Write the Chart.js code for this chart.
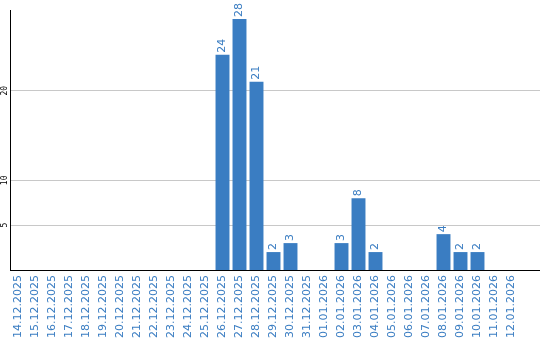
<!DOCTYPE html>
<html>
<head>
<meta charset="utf-8">
<script src="https://cdn.jsdelivr.net/npm/chart.js@4"></script>
<style>
  html, body { margin: 0; padding: 0; background: #fff; }
  #wrap { width: 540px; height: 340px; }
</style>
</head>
<body>
<div id="wrap"><canvas id="grafico"></canvas></div>
<script>
const dias = [
   '14.12.2025', '15.12.2025', '16.12.2025', '17.12.2025', '18.12.2025',
   '19.12.2025', '20.12.2025', '21.12.2025', '22.12.2025', '23.12.2025',
   '24.12.2025', '25.12.2025', '26.12.2025', '27.12.2025', '28.12.2025',
   '29.12.2025', '30.12.2025', '31.12.2025', '01.01.2026', '02.01.2026',
   '03.01.2026', '04.01.2026', '05.01.2026', '06.01.2026', '07.01.2026',
   '08.01.2026', '09.01.2026', '10.01.2026', '11.01.2026', '12.01.2026'
];
const valores = [
   0, 0, 0, 0, 0, 0, 0, 0, 0, 0,
   0, 0, 24, 28, 21, 2, 3, 0, 0, 3,
   8, 2, 0, 0, 0, 4, 2, 2, 0, 0
];
const yTicks = [5, 10, 20];
const yMax = 29;

const azul = 'rgb(58, 125, 194)';

// numero em cima de cada barra, rodado
const rotulos = {
   id: 'rotulos',
   afterDatasetsDraw(chart) {
      const ctx = chart.ctx;
      const meta = chart.getDatasetMeta(0);
      ctx.save();
      ctx.fillStyle = azul;
      ctx.font = '11px "DejaVu Sans"';
      ctx.textAlign = 'left';
      ctx.textBaseline = 'middle';
      meta.data.forEach((bar, i) => {
         const v = valores[i];
         if (!v) return;
         ctx.save();
         ctx.translate(bar.x, bar.y - 2);
         ctx.rotate(-Math.PI / 2);
         ctx.fillText(String(v), 0, 0);
         ctx.restore();
      });
      ctx.restore();
   }
};

// grelha e eixo vao ate a borda direita
const grelhaLarga = {
   id: 'grelhaLarga',
   beforeDatasetsDraw(chart) {
      const ctx = chart.ctx;
      const y = chart.scales.y;
      const area = chart.chartArea;
      ctx.save();
      ctx.strokeStyle = '#c8c8c8';
      ctx.lineWidth = 1;
      y.ticks.forEach(t => {
         const py = Math.round(y.getPixelForValue(t.value) - 0.5) + 0.5;
         ctx.beginPath();
         ctx.moveTo(area.right, py);
         ctx.lineTo(chart.width, py);
         ctx.stroke();
      });
      ctx.strokeStyle = '#000';
      const pb = Math.round(area.bottom - 0.5) + 0.5;
      ctx.beginPath();
      ctx.moveTo(area.right, pb);
      ctx.lineTo(chart.width, pb);
      ctx.stroke();
      ctx.restore();
   }
};

const grafico = document.getElementById('grafico').getContext('2d');
const chart = new Chart(grafico, {
   type: 'bar',
   data: {
      labels: dias,
      datasets: [{
         data: valores,
         backgroundColor: azul,
         barPercentage: 0.82,
         categoryPercentage: 1
      }]
   },
   options: {
      responsive: true,
      maintainAspectRatio: false,
      animation: false,
      layout: { padding: { top: 10, right: 20, left: 0, bottom: 0 } },
      plugins: {
         legend: { display: false },
         tooltip: { enabled: false }
      },
      scales: {
         x: {
            grid: { display: false, drawTicks: false },
            border: { color: '#000', width: 1 },
            ticks: {
               color: azul,
               font: { family: 'DejaVu Sans', size: 11 },
               minRotation: 90,
               maxRotation: 90,
               autoSkip: false,
               padding: 5
            },
            afterFit: (axis) => { axis.height = 70; }
         },
         y: {
            min: 0,
            max: yMax,
            grid: { color: '#c8c8c8', drawTicks: false },
            border: { color: '#000', width: 1 },
            ticks: {
               color: '#000',
               font: { family: 'DejaVu Sans Mono', size: 8 },
               minRotation: 90,
               maxRotation: 90,
               crossAlign: 'center',
               padding: 0
            },
            afterBuildTicks: (axis) => {
               axis.ticks = yTicks.map(v => ({ value: v }));
            },
            afterFit: (axis) => { axis.width = 10; }
         }
      }
   },
   plugins: [rotulos, grelhaLarga]
});
</script>
</body>
</html>
